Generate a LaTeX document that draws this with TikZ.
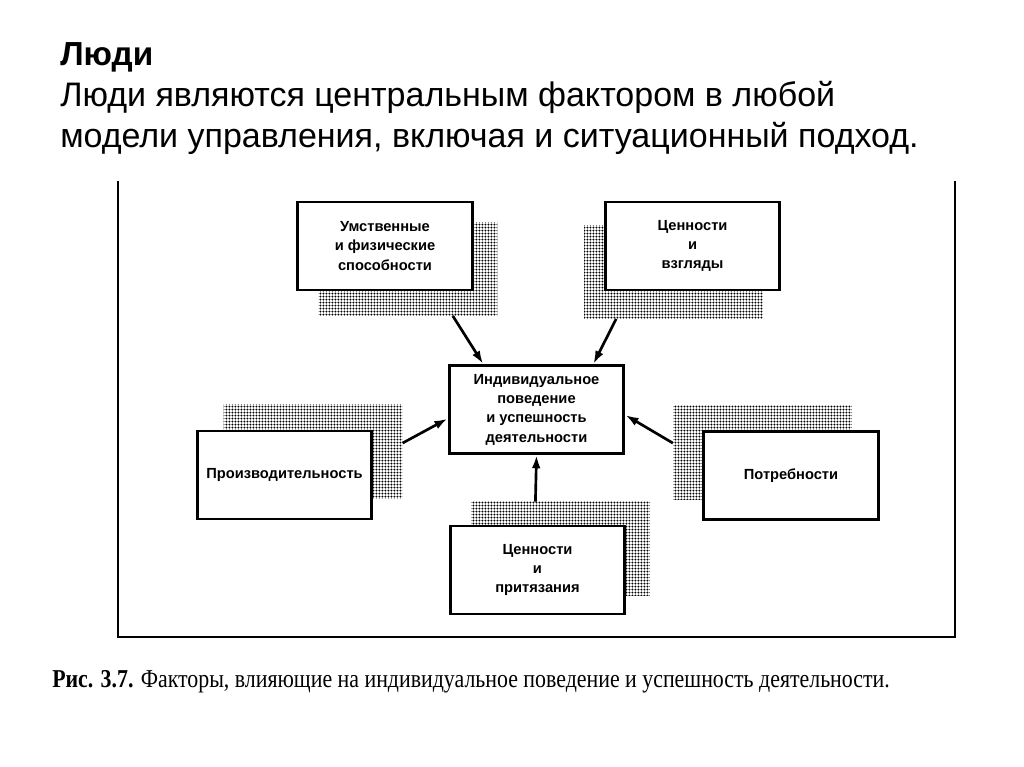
\documentclass[tikz,border=0pt]{standalone}
\usepackage{fontspec}
\setmainfont{Liberation Sans}
\newfontfamily\capfont{Liberation Serif}
\usetikzlibrary{patterns,calc,arrows.meta}
\pgfdeclarepatternformonly{halftone}{\pgfpointorigin}{\pgfqpoint{2.2pt}{2.2pt}}{\pgfqpoint{2.2pt}{2.2pt}}{\pgfpathcircle{\pgfqpoint{1.1pt}{1.1pt}}{0.85pt}\pgfusepath{fill}}

\begin{document}
\begin{tikzpicture}[x=0.75pt,y=-0.75pt,
  factor/.style={draw,line width=2.1pt,fill=white,minimum width=131pt,minimum height=66pt,inner sep=2pt,align=center,font=\fontsize{11}{14.5}\selectfont\bfseries},
  dots/.style={pattern=halftone,pattern color=black,minimum width=134pt,minimum height=70pt,inner sep=0pt},
  arr/.style={-{Latex[length=10pt,width=6.5pt]},line width=2pt}]
\useasboundingbox (0,0) rectangle (1024,767);
% title
\node[anchor=base west,inner sep=0pt,font=\fontsize{25}{30}\selectfont\bfseries] (title) at (60,65) {Люди};
\node[anchor=base west,inner sep=0pt,font=\fontsize{25.5}{30}\selectfont] (line1) at (60,106) {Люди являются центральным фактором в любой};
\node[anchor=base west,inner sep=0pt,font=\fontsize{25.5}{30}\selectfont] (line2) at (60,147) {модели управления, включая и ситуационный подход.};
% frame of the figure
\draw[line width=1.5pt] (118,181) -- (118,637) -- (955,637) -- (955,181) ;
% shadows
\node[dots] (s1) at (408,269) {} ;
\node[dots] (s2) at (673.5,272) {} ;
\node[dots] (s4) at (313,451.5) {} ;
\node[dots] (s5) at (762.5,452.5) {} ;
\node[dots] (s6) at (560.5,548.5) {} ;
% factors
\node[factor] (abil) at (385,246) {Умственные\\и физические\\способности} ;
\node[factor] (view) at (692.5,246) {Ценности\\и\\взгляды} ;
\node[factor] (ind) at (536.5,409.5) {Индивидуальное\\поведение\\и успешность\\деятельности} ;
\node[factor] (prod) at (284.5,475) {Производительность} ;
\node[factor] (need) at (791,475.5) {Потребности} ;
\node[factor] (clai) at (537.5,570) {Ценности\\и\\притязания} ;
% arrows
\draw[arr] ($(s1.south west)!0.75!(s1.south east)$) -- ($(ind.north west)!0.2!(ind.north east)$) ;
\draw[arr] ($(s2.south west)!0.18!(s2.south east)$) -- ($(ind.north west)!0.82!(ind.north east)$) ;
\draw[arr] ($(s4.north east)!0.41!(s4.south east)$) -- ($(ind.north west)!0.6!(ind.south west)$) ;
\draw[arr] ($(s5.north west)!0.4!(s5.south west)$) -- ($(ind.north east)!0.56!(ind.south east)$) ;
\draw[arr] ($(s6.north west)!0.36!(s6.north east)$) -- (ind.south) ;
% caption
\node[anchor=base west,inner sep=0pt,font=\capfont\fontsize{19.3}{22}\selectfont] (cap) at (52,687) {\scalebox{0.85}[1]{\textbf{Рис. 3.7.} Факторы, влияющие на индивидуальное поведение и успешность деятельности.}};
\end{tikzpicture}
\end{document}
